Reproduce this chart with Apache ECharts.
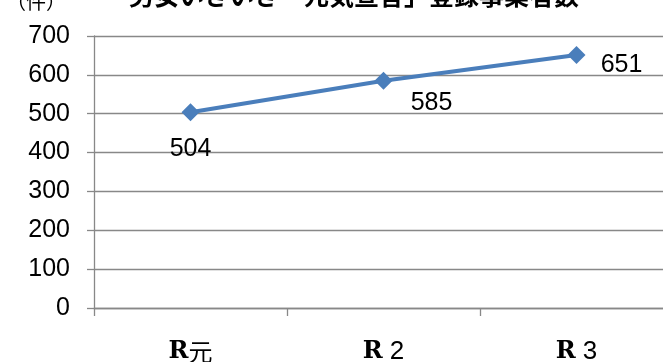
<!DOCTYPE html>
<html>
<head>
<meta charset="utf-8">
<script src="https://cdn.jsdelivr.net/npm/echarts@6/dist/echarts.min.js"></script>
<style>
  html, body { margin: 0; padding: 0; background: #fff; }
  #chart { width: 663px; height: 362px; }
</style>
</head>
<body>
<div id="chart"></div>
<script>
// Registered businesses per fiscal year
const categories = ['R元', 'R 2', 'R 3'];
const counts = [504, 585, 651];
const yTicks = [0, 100, 200, 300, 400, 500, 600, 700];
const titleText = '「男女いきいき・元気宣言」登録事業者数';
const unitText = '（件）';

const labelOffsets = [[0, 37], [48, 22], [45, 10]];

// Split "R…" into a bold serif era letter and the year part
function eraLabel(v) {
  const rest = v.slice(1);
  const tag = /\d/.test(rest) ? 'd' : 'k';
  return '{r|' + v.charAt(0) + '}{' + tag + '|' + rest + '}';
}

const chart = echarts.init(document.getElementById('chart'));
chart.setOption({
  animation: false,
  backgroundColor: '#fff',
  graphic: [
    {
      type: 'text', left: 104, top: -17,
      style: { text: titleText, font: 'bold 25px "Noto Sans CJK JP"', fill: '#000' }
    },
    {
      type: 'text', left: 6, top: -9,
      style: { text: unitText, font: '20px "Noto Sans CJK JP"', fill: '#000' }
    }
  ],
  grid: { left: 94, width: 579, top: 36, bottom: 54, containLabel: false, outerBoundsMode: 'none' },
  xAxis: {
    type: 'category',
    data: categories,
    boundaryGap: true,
    axisLine: { lineStyle: { color: '#888', width: 1.3 } },
    axisTick: { show: true, length: 8, alignWithLabel: false, lineStyle: { color: '#888', width: 1.3 } },
    axisLabel: {
      margin: 31, color: '#000',
      formatter: eraLabel,
      rich: {
        r: { fontFamily: '"DejaVu Serif"', fontWeight: 'bold', fontSize: 24, lineHeight: 26, color: '#000' },
        d: { fontFamily: '"Liberation Sans"', fontSize: 26, lineHeight: 26, color: '#000' },
        k: { fontFamily: '"Noto Sans CJK JP"', fontSize: 24, lineHeight: 26, color: '#000' }
      }
    },
    splitLine: { show: false }
  },
  yAxis: {
    type: 'value',
    min: yTicks[0], max: yTicks[yTicks.length - 1], interval: 100,
    axisLine: { show: true, lineStyle: { color: '#888', width: 1.3 } },
    axisTick: { show: true, length: 7, lineStyle: { color: '#888', width: 1.3 } },
    axisLabel: { margin: 24, color: '#000', fontFamily: 'Liberation Sans, Arial', fontSize: 25 },
    splitLine: { show: true, lineStyle: { color: '#888', width: 1.3 } }
  },
  series: [{
    type: 'line',
    data: counts.map((v, i) => ({
      value: v,
      label: { offset: labelOffsets[i] }
    })),
    symbol: 'diamond',
    symbolSize: 18,
    lineStyle: { color: '#4a7ebb', width: 4 },
    itemStyle: { color: '#4a7ebb' },
    label: {
      show: true, position: 'inside', color: '#000',
      fontFamily: 'Liberation Sans, Arial', fontSize: 25
    }
  }]
});
</script>
</body>
</html>
